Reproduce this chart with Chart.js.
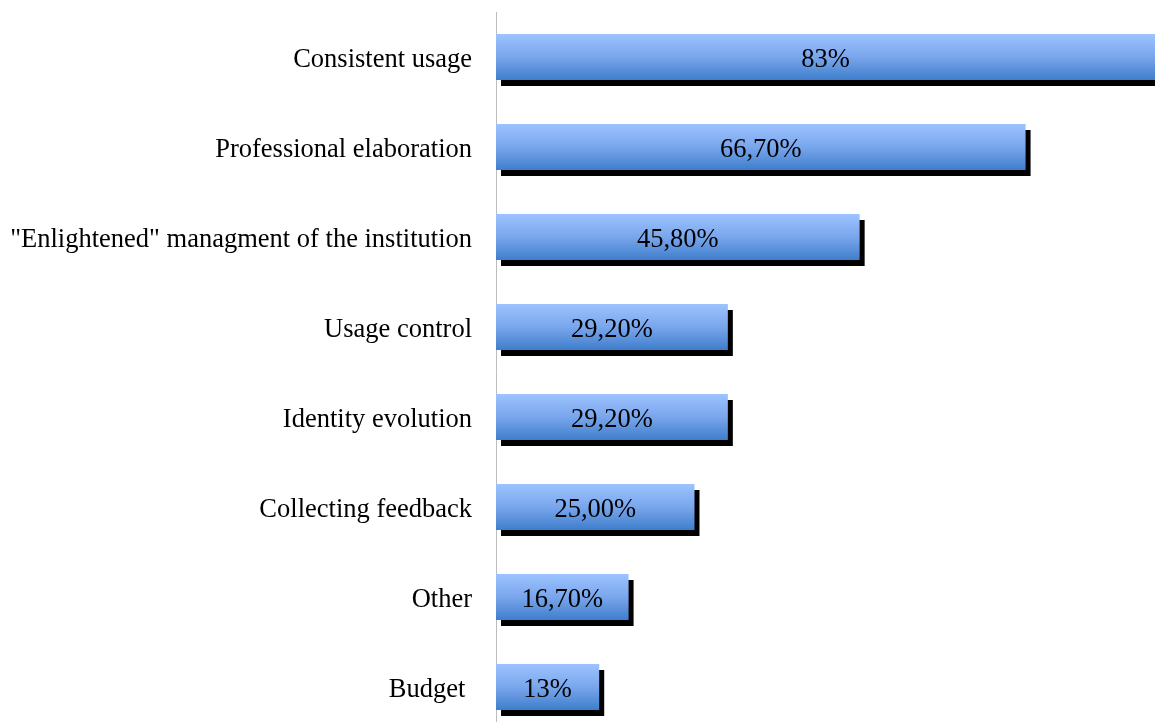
<!DOCTYPE html>
<html>
<head>
<meta charset="utf-8">
<script src="https://cdn.jsdelivr.net/npm/chart.js@4/dist/chart.umd.min.js"></script>
<style>
  html, body { margin: 0; padding: 0; background: #fff; overflow: hidden; }
  #wrap { position: relative; width: 1155px; height: 744px; }
</style>
</head>
<body>
<div id="wrap"><canvas id="chart"></canvas></div>
<script>
const categories = [
    "Consistent usage",
    "Professional elaboration",
    "\"Enlightened\" managment of the institution",
    "Usage control",
    "Identity evolution",
    "Collecting feedback",
    "Other",
    "Budget "
];
const values = [83, 66.7, 45.8, 29.2, 29.2, 25, 16.7, 13];
const valueLabels = ["83%", "66,70%", "45,80%", "29,20%", "29,20%", "25,00%", "16,70%", "13%"];

const serif = "'Liberation Serif', 'Times New Roman', serif";

// vertical gradient per bar, from light blue at top to deeper blue at bottom
function barGradient(c) {
    const chart = c.chart;
    const y = chart.scales.y;
    if (!y || c.dataIndex === undefined) return "#6A9BE6";
    const mid = y.getPixelForValue(c.dataIndex);
    if (!isFinite(mid)) return "#6A9BE6";
    const half = 23;
    const g = chart.ctx.createLinearGradient(0, mid - half, 0, mid + half);
    g.addColorStop(0, "#9DC3FF");
    g.addColorStop(0.5, "#79A6EC");
    g.addColorStop(1, "#3F7ECC");
    return g;
}

const barShadow = {
    id: "barShadow",
    beforeDatasetsDraw(chart) {
        const ctx = chart.ctx;
        ctx.save();
        ctx.shadowColor = "#000";
        ctx.shadowBlur = 0;
        ctx.shadowOffsetX = 5;
        ctx.shadowOffsetY = 6;
    },
    afterDatasetsDraw(chart) {
        const ctx = chart.ctx;
        ctx.restore();
        // value labels in the middle of each bar
        const meta = chart.getDatasetMeta(0);
        ctx.save();
        ctx.font = "26.5px " + serif;
        ctx.fillStyle = "#000";
        ctx.textAlign = "center";
        ctx.textBaseline = "middle";
        meta.data.forEach((bar, i) => {
            const cx = (bar.base + bar.x) / 2;
            ctx.fillText(valueLabels[i], cx, bar.y + 3);
        });
        ctx.restore();
    }
};

const ctx = document.getElementById("chart").getContext("2d");
const myChart = new Chart(ctx, {
    type: "bar",
    data: {
        labels: categories,
        datasets: [
            {
                data: values,
                backgroundColor: barGradient,
                borderWidth: 0,
                categoryPercentage: 1,
                barPercentage: 0.511,
            },
        ],
    },
    options: {
        indexAxis: "y",
        responsive: true,
        maintainAspectRatio: false,
        animation: false,
        layout: { padding: { top: 12, right: 0, bottom: 12, left: 0 } },
        plugins: {
            legend: { display: false },
            tooltip: { enabled: false },
        },
        scales: {
            x: {
                display: false,
                min: 0,
                max: 83,
            },
            y: {
                afterFit(scale) {
                    scale.width = 496;
                    scale.paddingTop = 0;
                    scale.paddingBottom = 0;
                },
                grid: { display: false, drawTicks: false },
                border: { display: true, color: "#BDBDBD", width: 1 },
                ticks: {
                    color: "#000",
                    padding: 24,
                    labelOffset: 3,
                    font: { family: serif, size: 26.5 },
                },
            },
        },
    },
    plugins: [barShadow],
});
myChart.update();
</script>
</body>
</html>
